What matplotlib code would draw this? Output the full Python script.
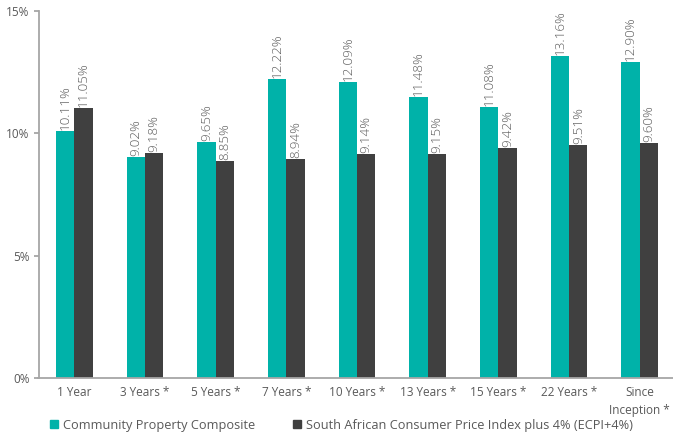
import numpy as np
import matplotlib.pyplot as plt
from matplotlib.lines import Line2D

periods = ["1 Year", "3 Years *", "5 Years *", "7 Years *", "10 Years *",
           "13 Years *", "15 Years *", "22 Years *", "Since\nInception *"]
composite = [10.11, 9.02, 9.65, 12.22, 12.09, 11.48, 11.08, 13.16, 12.90]
cpi_plus4 = [11.05, 9.18, 8.85, 8.94, 9.14, 9.15, 9.42, 9.51, 9.60]
series_names = ["Community Property Composite",
                "South African Consumer Price Index plus 4% (ECPI+4%)"]

TEAL = "#00B2A9"
DARK = "#404040"
TXT = "#595959"
AXC = "#A6A6A6"

plt.rcParams["font.family"] = ["Open Sans", "DejaVu Sans"]

fig = plt.figure(figsize=(6.73, 4.36), dpi=100)
ax = fig.add_axes([38.5 / 673, 1 - 378 / 436, 1 - 38.5 / 673, (378 - 11) / 436])

x = np.arange(len(periods))
w = 0.26
b1 = ax.bar(x - w / 2, composite, w, color=TEAL, zorder=2)
b2 = ax.bar(x + w / 2, cpi_plus4, w, color=DARK, zorder=2)

for bars in (b1, b2):
    for r in bars:
        h = r.get_height()
        ax.text(r.get_x() + r.get_width() / 2, h + 0.04, f"{h:.2f}%",
                rotation=90, ha="center", va="bottom", fontsize=9.6,
                color=TXT, fontweight="light")

ax.set_xlim(-0.505, 8.47)
ax.set_ylim(0, 15)
ax.set_yticks([0, 5, 10, 15])
ax.set_yticklabels(["0%", "5%", "10%", "15%"])
ax.set_xticks(x)
ax.set_xticklabels(periods, linespacing=1.5)

for s in ("top", "right"):
    ax.spines[s].set_visible(False)
for s in ("left", "bottom"):
    ax.spines[s].set_color(AXC)
    ax.spines[s].set_linewidth(1.3)

ax.tick_params(axis="y", length=3.5, width=1.3, color=AXC, labelcolor=TXT,
               labelsize=8.5, pad=3)
ax.tick_params(axis="x", length=0, labelcolor=TXT, labelsize=8.5, pad=6)

handles = [Line2D([], [], marker="s", ls="", color=TEAL, markersize=5.5),
           Line2D([], [], marker="s", ls="", color=DARK, markersize=5.5)]
fig.legend(handles, series_names, loc="center left",
           bbox_to_anchor=(50 / 673, 1 - 425 / 436), ncol=2, frameon=False,
           fontsize=9.2, labelcolor=TXT, handlelength=0.7, handletextpad=0.35,
           columnspacing=2.9, borderpad=0, borderaxespad=0)

fig.savefig("out.png", dpi=100)
